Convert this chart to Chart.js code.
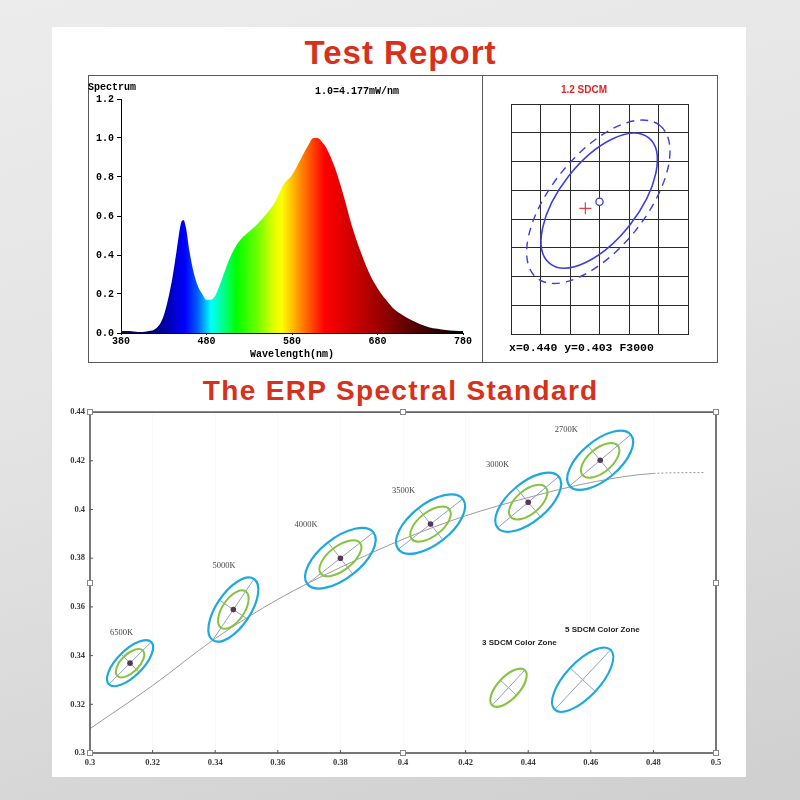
<!DOCTYPE html>
<html><head><meta charset="utf-8">
<script src="https://cdn.jsdelivr.net/npm/chart.js@4.4.1/dist/chart.umd.min.js"></script>
<style>
html,body{margin:0;padding:0;}
body{width:800px;height:800px;position:relative;overflow:hidden;background:linear-gradient(165deg,#ececec 0%,#e3e3e3 45%,#cfcfcf 100%);font-family:"Liberation Sans",Arial,sans-serif;}
#panel{position:absolute;left:52px;top:27px;width:694px;height:750px;background:#fff;}
.title{position:absolute;left:0;width:800px;text-align:center;color:#d7301b;font-weight:bold;line-height:1;white-space:nowrap;font-family:"Liberation Sans",Arial,sans-serif;}
#box{position:absolute;left:88px;top:75px;width:630px;height:288px;box-sizing:border-box;border:1px solid #5a5a5a;}
#divider{position:absolute;left:482px;top:75px;width:1px;height:288px;background:#5a5a5a;}
canvas{position:absolute;}
</style></head>
<body>
<div id="panel"></div>
<div id="t1" class="title" style="top:36px;font-size:33px">Test Report</div>
<div id="box"></div><div id="divider"></div>
<canvas id="spec" width="393" height="285" style="left:88px;top:76px"></canvas>
<canvas id="sdcm" width="233" height="285" style="left:483px;top:76px"></canvas>
<div id="t2" class="title" style="top:377px;font-size:28px">The ERP Spectral Standard</div>
<canvas id="erp" width="694" height="375" style="left:52px;top:402px"></canvas>
<script>
// ---------------- DATA ----------------
// Spectrum (relative power vs wavelength, nm)
const specWl  = [380,390,400,410,420,430,440,445,450,453,456,460,465,470,475,480,485,490,495,500,505,510,515,520,530,540,550,560,570,580,590,600,605,610,615,620,630,640,650,660,670,680,690,700,710,720,730,740,750,760,770,780];
const specVal = [0.01,0.01,0.005,0.008,0.02,0.09,0.28,0.42,0.56,0.58,0.54,0.42,0.31,0.24,0.20,0.17,0.17,0.19,0.24,0.30,0.36,0.41,0.45,0.48,0.52,0.56,0.61,0.67,0.76,0.81,0.89,0.97,1.0,1.0,0.98,0.95,0.85,0.71,0.55,0.42,0.31,0.23,0.17,0.12,0.09,0.065,0.045,0.03,0.022,0.016,0.012,0.01];
const specXTicks = [380,480,580,680,780];
const specYTickVals = [0,0.2,0.4,0.6,0.8,1.0,1.2];
const specYTickLabels = ['0.0','0.2','0.4','0.6','0.8','1.0','1.2'];
const specNote = '1.0=4.177mW/nm';

// SDCM panel (grid cell units)
const sdcmXTicks = [0,1,2,3,4,5,6];
const sdcmYTicks = [0,1,2,3,4,5,6,7,8];
const sdcmEllX = [2.99,2.96];     // solid, dashed
const sdcmEllY = [4.64,4.60];
const sdcmMajX = [1.67,2.09];
const sdcmMajY = [2.19,2.65];
const sdcmRatio = [0.49,0.48];
const sdcmMeasured = [3.0,4.6];
const sdcmTarget = [2.52,4.37];
const sdcmTitle = '1.2 SDCM';
const sdcmInfo = 'x=0.440 y=0.403 F3000';

// ERP chromaticity chart
const erpXTicks = [0.3,0.32,0.34,0.36,0.38,0.4,0.42,0.44,0.46,0.48,0.5];
const erpXLabels = ['0.3','0.32','0.34','0.36','0.38','0.4','0.42','0.44','0.46','0.48','0.5'];
const erpYTicks = [0.3,0.32,0.34,0.36,0.38,0.4,0.42,0.44];
const erpYLabels = ['0.3','0.32','0.34','0.36','0.38','0.4','0.42','0.44'];
const locusX = [0.300,0.320,0.340,0.360,0.380,0.400,0.420,0.440,0.460,0.480,0.496];
const locusY = [0.3100,0.3277,0.3470,0.3631,0.3762,0.3878,0.3974,0.4049,0.4111,0.4148,0.4152];
const cctNames = ['6500K','5000K','4000K','3500K','3000K','2700K'];
const cctX = [0.3128,0.3458,0.3800,0.4088,0.4400,0.4630];
const cctY = [0.3369,0.3589,0.3800,0.3940,0.4030,0.4202];
const outerMajX = [0.00677,0.0066,0.01056,0.0103,0.00977,0.00977];
const outerMajY = [0.00869,0.01257,0.0106,0.01034,0.01054,0.01054];
const outerRatio = [0.43,0.46,0.48,0.49,0.48,0.48];
const innerMajX = [0.00406,0.00392,0.00628,0.00603,0.00562,0.00562];
const innerMajY = [0.00521,0.00747,0.00631,0.00606,0.00606,0.00606];
const innerRatio = [0.5,0.5,0.48,0.5,0.52,0.52];
const cctLabelX = [0.3101,0.3428,0.3690,0.4002,0.4302,0.4522];
const cctLabelY = [0.3493,0.3769,0.3937,0.4076,0.4182,0.4326];
const zoneNames = ['3 SDCM Color Zone','5 SDCM Color Zone'];
const zoneX = [0.4337,0.4574];
const zoneY = [0.3268,0.3301];
const zoneMajX = [0.00522,0.00893];
const zoneMajY = [0.00719,0.01228];
const zoneRatio = [0.46,0.42];
const zoneLabelX = [0.4372,0.4637];
const zoneLabelY = [0.3452,0.3508];

// ---------------- STYLE ----------------
const MONO = '"Liberation Mono","DejaVu Sans Mono",monospace';
const SERIF = '"Liberation Serif","DejaVu Serif",serif';
const SANS = '"Liberation Sans",Arial,sans-serif';
const spectrumStops = [[380,'#0c0c48'],[420,'#00007a'],[440,'#0000c8'],[455,'#0000ff'],[470,'#0060ff'],[485,'#00ffff'],[500,'#00ff88'],[515,'#00ff00'],[540,'#70ff00'],[558,'#ddff00'],[568,'#ffff00'],[580,'#ffc000'],[592,'#ff8000'],[605,'#ff4000'],[618,'#ff0000'],[650,'#d00000'],[680,'#a00000'],[710,'#6a0000'],[740,'#380000'],[780,'#000000']];
const COL_OUTER = '#1ea9de', COL_INNER = '#86c440', COL_AXIS = '#8e9fc6';

Chart.defaults.animation = false;
Chart.defaults.plugins.legend.display = false;
Chart.defaults.plugins.tooltip.enabled = false;

function fitTitle(id, target){
  const el = document.getElementById(id);
  const c = document.createElement('canvas').getContext('2d');
  const cs = getComputedStyle(el);
  c.font = 'bold ' + cs.fontSize + ' ' + SANS;
  const t = el.textContent, w = c.measureText(t).width;
  const ls = (target - w) / (t.length - 1);
  el.style.letterSpacing = ls + 'px';
  el.style.textIndent = ls + 'px';
}
fitTitle('t1', 191);
fitTitle('t2', 395);

function forceTicks(vals){ return s => { s.ticks = vals.map(v => ({value:v})); }; }

// ---------------- SPECTRUM ----------------
const specPlugin = {
  id:'specText',
  afterDraw(chart){
    const c = chart.ctx; c.save();
    c.fillStyle = '#000'; c.font = 'bold 10px ' + MONO; c.textBaseline = 'middle';
    c.textAlign = 'left';
    c.fillText('Spectrum', 0, 11);
    c.fillText(specNote, 227, 15);
    c.restore();
  }
};
new Chart(document.getElementById('spec'), {
  type:'line',
  data:{ datasets:[{
    data: specWl.map((w,i)=>({x:w,y:specVal[i]})),
    fill:'origin', borderWidth:0, pointRadius:0, cubicInterpolationMode:'monotone',
    backgroundColor:(ctx)=>{
      const ch = ctx.chart; if(!ch.chartArea) return '#00f';
      const xs = ch.scales.x;
      const x0 = xs.getPixelForValue(380), x1 = xs.getPixelForValue(780);
      const g = ch.ctx.createLinearGradient(x0,0,x1,0);
      spectrumStops.forEach(([w,col]) => g.addColorStop((w-380)/400, col));
      return g;
    }
  }]},
  options:{
    responsive:false,
    layout:{padding:{left:0,right:18,top:23,bottom:0}},
    scales:{
      x:{type:'linear',min:380,max:780,afterBuildTicks:forceTicks(specXTicks),
        afterFit:s=>{s.height=28;},
        grid:{drawOnChartArea:false,drawTicks:true,tickLength:2,color:'#000'},
        border:{color:'#000',width:1},
        ticks:{color:'#000',font:{family:MONO,size:10,weight:'bold'},padding:0,maxRotation:0,callback:(v)=>String(v)},
        title:{display:true,text:'Wavelength(nm)',color:'#000',font:{family:MONO,size:10,weight:'bold'},padding:{top:0,bottom:1}}
      },
      y:{type:'linear',min:0,max:1.2,afterBuildTicks:forceTicks(specYTickVals),
        afterFit:s=>{s.width=33;},
        grid:{drawOnChartArea:false,drawTicks:true,tickLength:4,color:'#000'},
        border:{color:'#000',width:1},
        ticks:{color:'#000',font:{family:MONO,size:10,weight:'bold'},padding:3,callback:(v,i)=>specYTickLabels[i]}
      }
    }
  },
  plugins:[specPlugin]
});

// ---------------- SDCM ----------------
function ellipseGeom(xs, ys, cx, cy, mx, my){
  const px = xs.getPixelForValue(cx), py = ys.getPixelForValue(cy);
  const ex = xs.getPixelForValue(cx+mx) - px, ey = ys.getPixelForValue(cy+my) - py;
  const a = Math.hypot(ex,ey);
  return {px,py,ex,ey,a,ang:Math.atan2(ey,ex)};
}
const sdcmPlugin = {
  id:'sdcmDraw',
  beforeDatasetsDraw(chart){
    const c = chart.ctx, xs = chart.scales.x, ys = chart.scales.y;
    c.save();
    for(let i=0;i<sdcmEllX.length;i++){
      const g = ellipseGeom(xs,ys,sdcmEllX[i],sdcmEllY[i],sdcmMajX[i],sdcmMajY[i]);
      c.strokeStyle = '#3d3de0'; c.lineWidth = i===0?1.6:1.4;
      c.setLineDash(i===0?[]:[8,6]);
      c.beginPath(); c.ellipse(g.px,g.py,g.a,g.a*sdcmRatio[i],g.ang,0,Math.PI*2); c.stroke();
    }
    c.restore();
  },
  afterDraw(chart){
    const c = chart.ctx; c.save();
    c.textBaseline='middle';
    c.fillStyle='#e02424'; c.font='bold 10px '+SANS; c.textAlign='center';
    c.fillText(sdcmTitle, 101, 14);
    c.fillStyle='#000'; c.font='bold 11.5px '+MONO; c.textAlign='left';
    c.fillText(sdcmInfo, 26, 272);
    c.restore();
  }
};
new Chart(document.getElementById('sdcm'), {
  type:'scatter',
  data:{datasets:[
    {data:[{x:sdcmMeasured[0],y:sdcmMeasured[1]}],pointStyle:'circle',pointRadius:3.6,borderColor:'#3a3ae0',backgroundColor:'#fff',borderWidth:1.3},
    {data:[{x:sdcmTarget[0],y:sdcmTarget[1]}],pointStyle:'cross',pointRadius:6,borderColor:'#e83a3a',backgroundColor:'#e83a3a',borderWidth:1.2}
  ]},
  options:{
    responsive:false,
    layout:{padding:{left:28,right:28,top:28,bottom:27}},
    scales:{
      x:{type:'linear',min:0,max:6,afterBuildTicks:forceTicks(sdcmXTicks),afterFit:s=>{s.height=0;},
        grid:{color:'#2a2a2a',lineWidth:1,drawTicks:false},border:{color:'#2a2a2a'},ticks:{display:false}},
      y:{type:'linear',min:0,max:8,afterBuildTicks:forceTicks(sdcmYTicks),afterFit:s=>{s.width=0;},
        grid:{color:'#2a2a2a',lineWidth:1,drawTicks:false},border:{color:'#2a2a2a'},ticks:{display:false}}
    }
  },
  plugins:[sdcmPlugin]
});

// ---------------- ERP ----------------
function drawZone(c, xs, ys, cx, cy, mx, my, ratio, color, lw){
  const g = ellipseGeom(xs,ys,cx,cy,mx,my);
  const b = g.a*ratio;
  c.strokeStyle = color; c.lineWidth = lw;
  c.beginPath(); c.ellipse(g.px,g.py,g.a,b,g.ang,0,Math.PI*2); c.stroke();
  return {g,b};
}
function drawCross(c, g, b){
  const ux = -g.ey/g.a*b, uy = g.ex/g.a*b;
  c.strokeStyle = COL_AXIS; c.lineWidth = 1;
  c.beginPath();
  c.moveTo(g.px-g.ex,g.py-g.ey); c.lineTo(g.px+g.ex,g.py+g.ey);
  c.moveTo(g.px-ux,g.py-uy); c.lineTo(g.px+ux,g.py+uy);
  c.stroke();
}
const erpPlugin = {
  id:'erpDraw',
  afterDatasetDraw(chart, args){
    if(args.index!==0) return;
    const c = chart.ctx, xs = chart.scales.x, ys = chart.scales.y;
    c.save();
    for(let i=0;i<cctX.length;i++){
      const o = ellipseGeom(xs,ys,cctX[i],cctY[i],outerMajX[i],outerMajY[i]);
      drawCross(c,o,o.a*outerRatio[i]);
      drawZone(c,xs,ys,cctX[i],cctY[i],innerMajX[i],innerMajY[i],innerRatio[i],COL_INNER,2);
      drawZone(c,xs,ys,cctX[i],cctY[i],outerMajX[i],outerMajY[i],outerRatio[i],COL_OUTER,2.2);
    }
    const zoneCols=[COL_INNER,COL_OUTER];
    for(let i=0;i<zoneX.length;i++){
      const o = ellipseGeom(xs,ys,zoneX[i],zoneY[i],zoneMajX[i],zoneMajY[i]);
      drawCross(c,o,o.a*zoneRatio[i]);
      drawZone(c,xs,ys,zoneX[i],zoneY[i],zoneMajX[i],zoneMajY[i],zoneRatio[i],zoneCols[i],2.1);
    }
    c.restore();
  },
  afterDraw(chart){
    const c = chart.ctx, xs = chart.scales.x, ys = chart.scales.y, a = chart.chartArea;
    c.save();
    // frame
    c.strokeStyle='#555'; c.lineWidth=1.6;
    c.strokeRect(a.left,a.top,a.right-a.left,a.bottom-a.top);
    // inward tick marks
    c.lineWidth=1; c.beginPath();
    erpXTicks.forEach(v=>{const x=xs.getPixelForValue(v); c.moveTo(x,a.bottom); c.lineTo(x,a.bottom-3);});
    erpYTicks.forEach(v=>{const y=ys.getPixelForValue(v); c.moveTo(a.left,y); c.lineTo(a.left+3,y);});
    c.stroke();
    // labels
    c.textAlign='center'; c.textBaseline='middle';
    c.fillStyle='#4a4a4a'; c.font='8.5px '+SERIF;
    cctNames.forEach((n,i)=>c.fillText(n, xs.getPixelForValue(cctLabelX[i]), ys.getPixelForValue(cctLabelY[i])));
    c.fillStyle='#1e1e1e'; c.font='bold 8px '+SANS;
    zoneNames.forEach((n,i)=>c.fillText(n, xs.getPixelForValue(zoneLabelX[i]), ys.getPixelForValue(zoneLabelY[i])));
    // selection handles
    const mx=(a.left+a.right)/2, my=(a.top+a.bottom)/2;
    const pts=[[a.left,a.top],[mx,a.top],[a.right,a.top],[a.left,my],[a.right,my],[a.left,a.bottom],[mx,a.bottom],[a.right,a.bottom]];
    c.fillStyle='#fff'; c.strokeStyle='#8a8a8a'; c.lineWidth=1;
    pts.forEach(([x,y])=>{c.fillRect(x-2.5,y-2.5,5,5); c.strokeRect(Math.round(x)-2.5,Math.round(y)-2.5,5,5);});
    c.restore();
  }
};
new Chart(document.getElementById('erp'), {
  type:'scatter',
  data:{datasets:[
    {type:'line',data:locusX.map((x,i)=>({x,y:locusY[i]})),borderColor:'#9a9a9a',borderWidth:1,pointRadius:0,fill:false,
      cubicInterpolationMode:'monotone',order:2,
      segment:{borderDash:(ctx)=>ctx.p0.parsed.x>=0.47?[2,2]:undefined}},
    {data:cctX.map((x,i)=>({x,y:cctY[i]})),pointRadius:2.8,pointStyle:'circle',backgroundColor:'#5a3556',borderColor:'#5a3556',borderWidth:0,order:1}
  ]},
  options:{
    responsive:false,
    layout:{padding:{left:0,right:30,top:9,bottom:0}},
    scales:{
      x:{type:'linear',min:0.3,max:0.5,afterBuildTicks:forceTicks(erpXTicks),afterFit:s=>{s.height=24;},
        grid:{color:'rgba(0,0,0,0.025)',drawTicks:false},border:{display:false},
        ticks:{color:'#3a3a3a',font:{family:SERIF,size:8.5,weight:'bold'},padding:5,maxRotation:0,callback:(v,i)=>erpXLabels[i]}},
      y:{type:'linear',min:0.3,max:0.44,afterBuildTicks:forceTicks(erpYTicks),afterFit:s=>{s.width=38;},
        grid:{display:false,drawTicks:false},border:{display:false},
        ticks:{color:'#3a3a3a',font:{family:SERIF,size:8.5,weight:'bold'},padding:5,callback:(v,i)=>erpYLabels[i]}}
    }
  },
  plugins:[erpPlugin]
});
</script>
</body></html>
